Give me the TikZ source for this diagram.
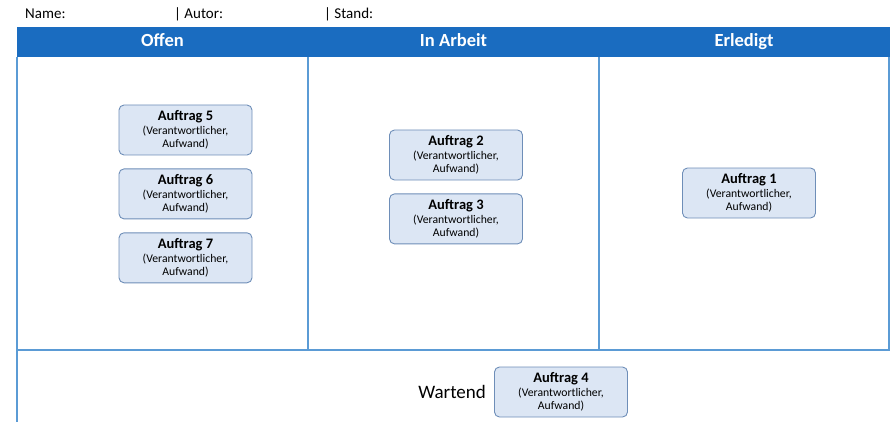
\documentclass[tikz,border=0pt]{standalone}
\usepackage{fontspec}
\setmainfont{Carlito}
\usetikzlibrary{positioning}

\definecolor{headblue}{HTML}{1A6CC0}
\definecolor{lineblue}{HTML}{5B9BD5}
\definecolor{cardfill}{HTML}{DCE6F4}
\definecolor{carddraw}{HTML}{6E8EB8}

\newcommand{\taskcard}[1]{\textbf{\fontsize{14.5}{15}\selectfont Auftrag #1}\\[1pt](Verantwortlicher,\\Aufwand)}

\begin{document}
\begin{tikzpicture}[x=1pt, y=-1pt, node distance=13pt and 13pt,
    every node/.style={inner sep=2pt},
    task/.style={draw=carddraw, fill=cardfill, rounded corners=5pt, line width=0.9pt,
        minimum width=133pt, minimum height=50pt, align=center, inner sep=1pt,
        font=\fontsize{11.7}{13.2}\selectfont},
    colhead/.style={text=white, font=\fontsize{18.5}{18.5}\selectfont\bfseries,
        text height=12pt, text depth=3pt},
    topinfo/.style={anchor=west, font=\fontsize{15}{15}\selectfont},
    colline/.style={draw=lineblue, line width=1.3pt}]
    \useasboundingbox (0,0) rectangle (890,422);

    % Top line
    \node (name) [topinfo] at (23,14) {Name:};
    \node (autor) [topinfo] at (172,14) {| Autor:};
    \node (stand) [topinfo] at (322,14) {| Stand:};

    % Header bar
    \fill[headblue] (17,27) rectangle (890,57);
    \node (offen) [colhead] at (162.5,42) {Offen};
    \node (inarbeit) [colhead] at (453.5,42) {In Arbeit};
    \node (erledigt) [colhead] at (744,42) {Erledigt};

    % Columns
    \draw[colline] (17,57) -- (17,422);
    \draw[colline] (17,350) -- (890,350);
    \draw[colline] (889,57) -- (889,350);
    \draw[colline] (308,57) -- (308,350);
    \draw[colline] (599,57) -- (599,350);

    % Offen
    \node (auftrag5) [task] at (185.5,130) {\taskcard{5}};
    \node (auftrag6) [task, below=of auftrag5] {\taskcard{6}};
    \node (auftrag7) [task, below=of auftrag6] {\taskcard{7}};
    % In Arbeit
    \node (auftrag2) [task] at (456,155) {\taskcard{2}};
    \node (auftrag3) [task, below=of auftrag2] {\taskcard{3}};
    % Erledigt
    \node (auftrag1) [task] at (749,193) {\taskcard{1}};
    % Wartend
    \node (auftrag4) [task] at (561,392) {\taskcard{4}};
    \node (wartend) [left=6pt of auftrag4, font=\fontsize{19}{19}\selectfont] {Wartend};
\end{tikzpicture}
\end{document}
